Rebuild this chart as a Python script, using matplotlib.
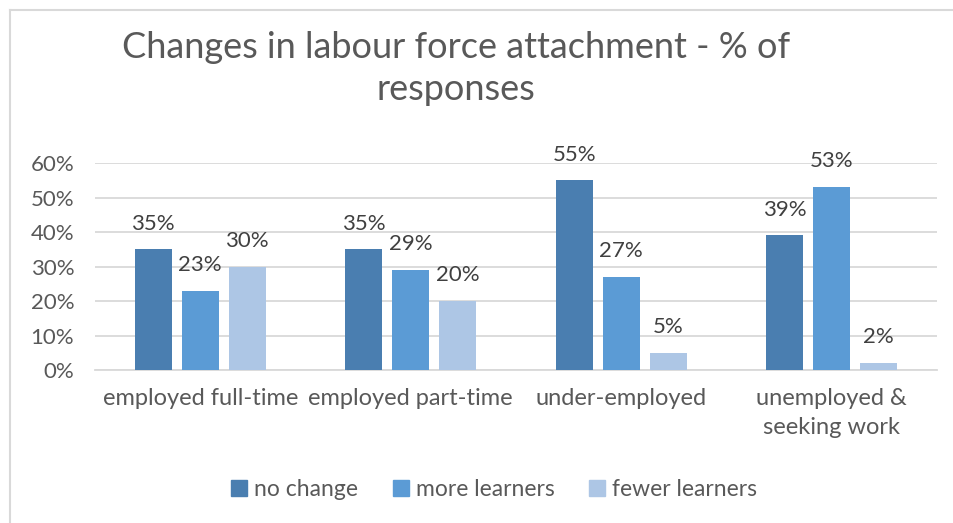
import matplotlib
matplotlib.use("Agg")
import matplotlib.pyplot as plt
from matplotlib.lines import Line2D
import numpy as np

plt.rcParams['font.family'] = ['Lato', 'DejaVu Sans']

categories = ["employed full-time", "employed part-time", "under-employed",
              "unemployed &\nseeking work"]
series_names = ["no change", "more learners", "fewer learners"]
no_change = [35, 35, 55, 39]
more_learners = [23, 29, 27, 53]
fewer_learners = [30, 20, 5, 2]
y_ticks = [0, 10, 20, 30, 40, 50, 60]

colors = ["#4a7eb0", "#5b9bd5", "#adc6e5"]
series = [no_change, more_learners, fewer_learners]

fig = plt.figure(figsize=(9.54, 5.23), dpi=100)
ax = fig.add_axes([95 / 954, 1 - 370 / 523, (937 - 95) / 954, (370 - 163) / 523])

x = np.arange(len(categories))
width = 0.176
step = 0.223
for i, (vals, name, c) in enumerate(zip(series, series_names, colors)):
    pos = x + (i - 1) * step
    bars = ax.bar(pos, vals, width, color=c, label=name, zorder=3)
    for b, v in zip(bars, vals):
        ax.text(b.get_x() + b.get_width() / 2, v + 5.7, f"{v}%",
                ha="center", va="baseline", fontsize=16, color="#404040")

ax.set_xlim(-0.5, 3.5)
ax.set_ylim(0, 60)
ax.set_yticks(y_ticks)
ax.set_yticklabels([f"{t}%" for t in y_ticks])
ax.yaxis.grid(True, color="#d9d9d9", linewidth=1.3, zorder=0)
ax.set_axisbelow(True)
for s in ["top", "right", "left"]:
    ax.spines[s].set_visible(False)
ax.spines["bottom"].set_color("#d9d9d9")
ax.spines["bottom"].set_linewidth(1.3)
ax.tick_params(axis="y", length=0, labelsize=16, labelcolor="#595959", pad=15)
ax.tick_params(axis="x", length=0, labelsize=17, labelcolor="#595959", pad=13)
ax.set_xticks(x)
ax.set_xticklabels(categories, linespacing=1.45, va="top")

fig.text(0.478, 1 - 68.5 / 523, "Changes in labour force attachment - % of\nresponses",
         ha="center", va="center", fontsize=26, color="#595959", linespacing=1.3)

handles = [Line2D([0], [0], marker="s", linestyle="none", markersize=11,
                  markerfacecolor=c, markeredgecolor=c) for c in colors]
fig.legend(handles, series_names, loc="center", bbox_to_anchor=(494 / 954, 1 - 490 / 523),
           ncol=3, frameon=False, fontsize=16.5, labelcolor="#595959",
           handletextpad=0.3, columnspacing=1.5, handlelength=0.7)

# chart area outline
fig.add_artist(Line2D([10 / 954, 10 / 954], [0, 1 - 10 / 523], transform=fig.transFigure,
                      color="#d9d9d9", linewidth=1.5))
fig.add_artist(Line2D([10 / 954, 1], [1 - 10 / 523, 1 - 10 / 523], transform=fig.transFigure,
                      color="#d9d9d9", linewidth=1.5))

fig.savefig("out.png", dpi=100, facecolor="white")
